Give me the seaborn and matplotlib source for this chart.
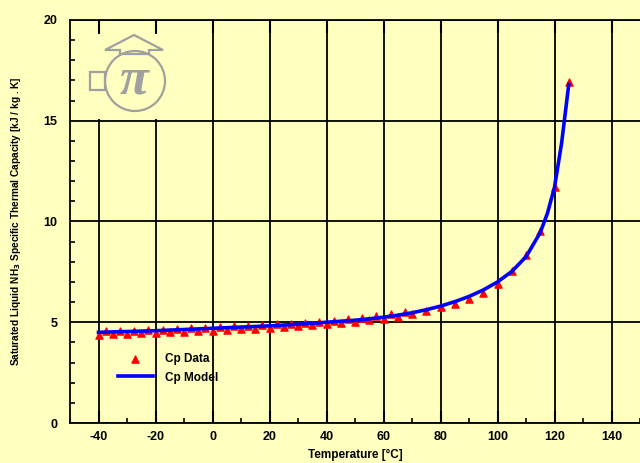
import matplotlib
matplotlib.use("Agg")
import matplotlib.pyplot as plt
import seaborn as sns
import pandas as pd
from matplotlib.patches import Circle, Rectangle, Polygon
from matplotlib.ticker import MultipleLocator

# ---- data ----
data_temp = [-40, -37.5, -35, -32.5, -30, -27.5, -25, -22.5, -20, -17.5, -15, -12.5,
             -10, -7.5, -5, -2.5, 0, 2.5, 5, 7.5, 10, 12.5, 15, 17.5, 20, 22.5, 25,
             27.5, 30, 32.5, 35, 37.5, 40, 42.5, 45, 47.5, 50, 52.5, 55, 57.5, 60,
             62.5, 65, 67.5, 70, 75, 80, 85, 90, 95, 100, 105, 110, 115, 120, 125]
data_cp = [4.38, 4.55, 4.41, 4.57, 4.43, 4.59, 4.45, 4.61, 4.47, 4.64, 4.50, 4.67,
           4.53, 4.70, 4.56, 4.73, 4.59, 4.76, 4.62, 4.79, 4.65, 4.82, 4.68, 4.85,
           4.71, 4.89, 4.75, 4.93, 4.79, 4.98, 4.84, 5.03, 4.89, 5.08, 4.95, 5.14,
           5.01, 5.21, 5.09, 5.30, 5.17, 5.39, 5.27, 5.50, 5.40, 5.55, 5.76, 5.92,
           6.15, 6.47, 6.88, 7.55, 8.35, 9.55, 11.7, 16.9]

model_temp = [-40, -35, -30, -25, -20, -15, -10, -5, 0, 5, 10, 15, 20, 25, 30, 35,
              40, 45, 50, 55, 60, 65, 70, 75, 80, 85, 90, 95, 100, 105, 110, 115,
              117.5, 120, 122.5, 125]
model_cp = [4.50, 4.52, 4.54, 4.56, 4.58, 4.61, 4.64, 4.67, 4.70, 4.73, 4.76, 4.79,
            4.82, 4.86, 4.90, 4.95, 5.00, 5.05, 5.10, 5.17, 5.25, 5.35, 5.47, 5.62,
            5.80, 6.02, 6.28, 6.60, 7.00, 7.52, 8.25, 9.45, 10.4, 11.7, 13.9, 16.8]

x_ticks = [-40, -20, 0, 20, 40, 60, 80, 100, 120, 140]
y_ticks = [0, 5, 10, 15, 20]

BG = "#FFFFC0"
FONT = "Liberation Sans"
plt.rcParams["axes.unicode_minus"] = False

df_data = pd.DataFrame({"T": data_temp, "Cp": data_cp})
df_model = pd.DataFrame({"T": model_temp, "Cp": model_cp})

W, H = 640, 463
fig = plt.figure(figsize=(6.4, 4.63), dpi=100, facecolor=BG)
ax = fig.add_axes([70 / W, 1 - 423 / H, 570 / W, 403 / H], facecolor=BG)
ax.set_axisbelow(True)

sns.scatterplot(data=df_data, x="T", y="Cp", marker="^", color="red", edgecolor="red",
                s=28, linewidth=0.8, ax=ax, label="Cp Data", zorder=3)
sns.lineplot(data=df_model, x="T", y="Cp", color="blue", linewidth=2.6, ax=ax,
             label="Cp Model", zorder=4)

ax.set_xlim(-50, 150)
ax.set_ylim(0, 20)
ax.set_xticks(x_ticks)
ax.set_yticks(y_ticks)
ax.xaxis.set_minor_locator(MultipleLocator(10))
ax.yaxis.set_minor_locator(MultipleLocator(1))
ax.grid(True, which="major", color="black", linewidth=1.3)

for s in ["top", "left", "bottom"]:
    ax.spines[s].set_color("black")
    ax.spines[s].set_linewidth(1.3)
ax.spines["right"].set_visible(False)

ax.tick_params(axis="x", which="major", direction="in", top=True, bottom=True,
               length=9, width=1.5, pad=6)
ax.tick_params(axis="x", which="minor", direction="in", top=False, bottom=True,
               length=3.5, width=1.2)
ax.tick_params(axis="y", which="major", direction="in", left=True, right=False,
               length=0, pad=9)
ax.tick_params(axis="y", which="minor", direction="in", left=True, right=False,
               length=3.5, width=1.2)

for lab in ax.get_xticklabels() + ax.get_yticklabels():
    lab.set_fontfamily(FONT)
    lab.set_fontweight("bold")
    lab.set_fontsize(9)

ax.set_xlabel("Temperature [°C]", fontfamily=FONT, fontweight="bold", fontsize=8.5,
              labelpad=4)
ax.set_ylabel("Saturated Liquid NH$_\\mathbf{3}$ Specific Thermal Capacity [kJ / kg . K]",
              fontfamily=FONT, fontweight="bold", fontsize=7.3, labelpad=15)

leg = ax.legend(loc="upper left", bbox_to_anchor=(0.065, 0.2), frameon=False,
                handlelength=3.0, handletextpad=1.0, labelspacing=0.55,
                prop={"family": FONT, "weight": "bold", "size": 8.5})

# ---- logo (opaque box hiding grid lines) ----
lax = fig.add_axes([76 / W, 1 - 119 / H, 124 / W, 85 / H], facecolor=BG, zorder=5)
lax.set_xlim(76, 200)
lax.set_ylim(119, 34)
lax.axis("off")
lax.add_patch(Rectangle((76, 34), 124, 85, facecolor=BG, edgecolor="none"))
grey = "#A0A0A0"
lax.add_patch(Circle((135, 81), 30, fill=False, edgecolor=grey, linewidth=1.6))
lax.add_patch(Rectangle((90, 72), 15, 18, fill=False, edgecolor=grey, linewidth=1.6))
lax.add_patch(Polygon([(105, 50), (134, 35), (163, 50), (149, 50), (149, 54),
                       (120, 54), (120, 50)], closed=True, fill=False,
                      edgecolor=grey, linewidth=1.6))
lax.text(134, 80, "π", fontsize=38, color=grey, family="Liberation Serif",
         style="italic", weight="bold", ha="center", va="center")

fig.savefig("out.png", dpi=100, facecolor=BG)
